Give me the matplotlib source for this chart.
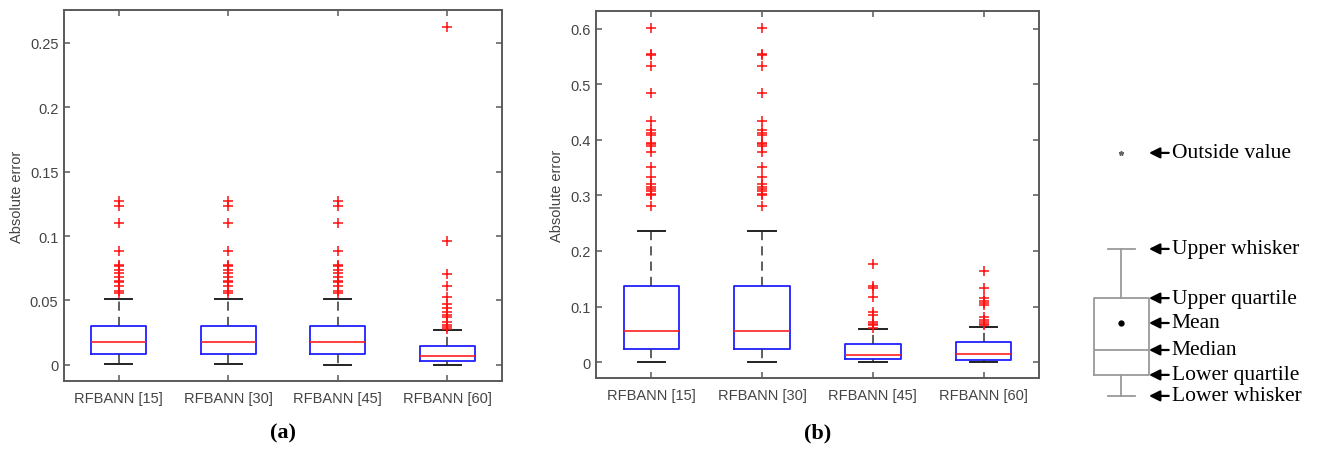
import matplotlib
matplotlib.use('Agg')
import matplotlib.pyplot as plt
from matplotlib.ticker import FuncFormatter

labels = ['RFBANN [15]', 'RFBANN [30]', 'RFBANN [45]', 'RFBANN [60]']

# panel (a): box stats
a_q1 = [0.0083, 0.0083, 0.0083, 0.0028]
a_med = [0.0181, 0.0181, 0.0181, 0.0072]
a_q3 = [0.0298, 0.0298, 0.0298, 0.0150]
a_lo = [0.0005, 0.0005, 0.0, 0.0]
a_hi = [0.0510, 0.0510, 0.0510, 0.0272]
a_out_123 = [0.1276, 0.1237, 0.1102, 0.0883, 0.0779, 0.0771, 0.0740, 0.0714,
             0.0686, 0.0655, 0.0647, 0.0611, 0.0572, 0.0559]
a_out_4 = [0.262, 0.0958, 0.0707, 0.0611, 0.053, 0.0474, 0.044, 0.0409,
           0.0388, 0.037, 0.0336, 0.031, 0.0292, 0.028]
a_out = [a_out_123, a_out_123, a_out_123, a_out_4]

# panel (b)
b_q1 = [0.0234, 0.0234, 0.0060, 0.0048]
b_med = [0.0558, 0.0558, 0.0138, 0.0150]
b_q3 = [0.1367, 0.1367, 0.0330, 0.0366]
b_lo = [0.0, 0.0, 0.0, 0.0]
b_hi = [0.2362, 0.2362, 0.0588, 0.0641]
b_out_12 = [0.6007, 0.5546, 0.5516, 0.5324, 0.4838, 0.4335, 0.4167, 0.4125,
            0.4089, 0.3945, 0.3915, 0.3891, 0.3777, 0.3507, 0.3327, 0.3201,
            0.3147, 0.3106, 0.3070, 0.3028, 0.2998, 0.2800]
b_out_3 = [0.1757, 0.1367, 0.1343, 0.1181, 0.0911, 0.0857, 0.0719, 0.069,
           0.066, 0.0612]
b_out_4 = [0.1631, 0.1343, 0.1151, 0.1109, 0.1067, 0.1031, 0.0809, 0.0767,
           0.0731, 0.069, 0.066]
b_out = [b_out_12, b_out_12, b_out_3, b_out_4]

# schematic legend box (arbitrary units)
leg_stats = dict(whislo=0.77, q1=1.47, med=2.3, q3=4.03, whishi=5.67,
                 mean=3.2, fliers=[8.87])
leg_names = ['Outside value', 'Upper whisker', 'Upper quartile', 'Mean',
             'Median', 'Lower quartile', 'Lower whisker']
leg_keys = ['fliers', 'whishi', 'q3', 'mean', 'med', 'q1', 'whislo']

tick_col = '#444444'
spine_col = '#5a5a5a'


def make_stats(q1, med, q3, lo, hi, out):
    st = []
    for i in range(len(q1)):
        st.append(dict(q1=q1[i], med=med[i], q3=q3[i], whislo=lo[i],
                       whishi=hi[i], fliers=out[i], label=labels[i]))
    return st


def draw_panel(ax, stats, ylim, yticks):
    ax.bxp(stats, positions=[1, 2, 3, 4], widths=0.5, capwidths=0.25,
           boxprops=dict(color='#2020ff', lw=1.3),
           medianprops=dict(color='#ff2020', lw=1.2),
           whiskerprops=dict(color='#333333', lw=1.1, linestyle=(0, (6, 4))),
           capprops=dict(color='#222222', lw=1.4),
           flierprops=dict(marker='+', markeredgecolor='#ff1010',
                           markersize=7, markeredgewidth=1.1, linestyle='none'))
    ax.set_xlim(0.5, 4.5)
    ax.set_ylim(*ylim)
    ax.set_yticks(yticks)
    ax.yaxis.set_major_formatter(FuncFormatter(lambda v, p: '%g' % round(v, 3)))
    ax.set_ylabel('Absolute error', fontsize=10.5, color=tick_col,
                  family='Liberation Sans', labelpad=4)
    ax.tick_params(direction='in', top=True, right=True, length=4,
                   width=1.1, color=spine_col, labelsize=10.5,
                   labelcolor=tick_col)
    ax.tick_params(axis='x', pad=7)
    ax.tick_params(axis='y', pad=4)
    for lab in ax.get_xticklabels() + ax.get_yticklabels():
        lab.set_family('Liberation Sans')
    for s in ax.spines.values():
        s.set_color(spine_col)
        s.set_linewidth(1.4)


fig = plt.figure(figsize=(13.2, 4.52), dpi=100)

ax1 = fig.add_axes([0.0485, 0.1549, 0.3318, 0.8208])
draw_panel(ax1, make_stats(a_q1, a_med, a_q3, a_lo, a_hi, a_out),
           (-0.0125, 0.2755), [0, 0.05, 0.1, 0.15, 0.2, 0.25])

ax2 = fig.add_axes([0.4515, 0.1608, 0.3356, 0.8120])
draw_panel(ax2, make_stats(b_q1, b_med, b_q3, b_lo, b_hi, b_out),
           (-0.029, 0.631), [0, 0.1, 0.2, 0.3, 0.4, 0.5, 0.6])

fig.text(0.2145, 0.042, '(a)', fontsize=16, fontweight='bold',
         family='Liberation Serif', ha='center', va='center')
fig.text(0.6197, 0.042, '(b)', fontsize=16, fontweight='bold',
         family='Liberation Serif', ha='center', va='center')

# schematic legend
ax3 = fig.add_axes([1050 / 1320, 32 / 452, 270 / 1320, 300 / 452])
ax3.set_xlim(0, 9)
ax3.set_ylim(0, 10)
ax3.axis('off')
gray = '#9a9a9a'
ax3.bxp([leg_stats], positions=[2.37], widths=1.83, capwidths=0.9,
        showmeans=True, manage_ticks=False,
        boxprops=dict(color=gray, lw=1.3),
        medianprops=dict(color=gray, lw=1.3),
        whiskerprops=dict(color=gray, lw=1.3),
        capprops=dict(color=gray, lw=1.3),
        meanprops=dict(marker='o', markersize=3.5, markerfacecolor='black',
                       markeredgecolor='black'),
        flierprops=dict(marker='*', markersize=3.5, markerfacecolor='#666666',
                        markeredgecolor='#666666', linestyle='none'))
for name, key in zip(leg_names, leg_keys):
    yv = leg_stats[key][0] if key == 'fliers' else leg_stats[key]
    ax3.annotate(name, xy=(3.3, yv), xytext=(4.05, yv),
                 fontsize=15.5, family='Liberation Serif', ha='left',
                 va='center',
                 arrowprops=dict(arrowstyle='-|>', color='black', lw=1.6,
                                 mutation_scale=16, shrinkA=0, shrinkB=0))

fig.savefig('out.png', dpi=100)
